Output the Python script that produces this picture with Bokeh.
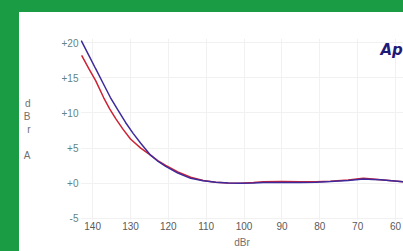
from bokeh.plotting import figure
from bokeh.models import Range1d, FixedTicker, Label
from bokeh.embed import file_html
from bokeh.resources import INLINE

# Data (x: dBr generator level, reversed axis; y: dBr A)
blue_x = [143.0, 141.0, 139.2, 137.2, 135.3, 133.3, 131.3, 129.3, 127.3, 124.7, 122.7, 120.7,
          117.5, 114.1, 110.8, 107.5, 104.2, 101.0, 97.5, 94.9, 90.0, 85.1, 81.0, 77.2,
          72.5, 68.5, 66.0, 64.0, 61.0, 57.9]
blue_y = [20.3, 18.2, 16.3, 14.2, 12.2, 10.4, 8.65, 7.1, 5.7, 4.0, 3.1, 2.4,
          1.45, 0.7, 0.35, 0.15, 0.05, 0.0, 0.05, 0.1, 0.12, 0.1, 0.15, 0.25,
          0.4, 0.6, 0.55, 0.5, 0.35, 0.2]
red_x = [142.9, 141.0, 139.2, 137.1, 135.5, 133.9, 132.0, 130.0, 127.3, 124.7, 122.7, 120.7,
         117.5, 114.1, 110.8, 107.5, 104.2, 101.0, 97.5, 94.9, 90.0, 85.1, 81.0, 77.2,
         72.5, 68.5, 66.0, 64.0, 61.0, 57.9]
red_y = [18.2, 16.3, 14.6, 12.2, 10.6, 9.2, 7.7, 6.3, 5.0, 4.0, 3.2, 2.55,
         1.6, 0.85, 0.4, 0.15, 0.05, 0.0, 0.1, 0.2, 0.25, 0.2, 0.2, 0.3,
         0.45, 0.7, 0.6, 0.5, 0.35, 0.2]

x_ticks = [140, 130, 120, 110, 100, 90, 80, 70, 60]
x_tick_labels = ["140", "130", "120", "110", "100", "90", "80", "70", "60"]
y_ticks = [-5, 0, 5, 10, 15, 20]
y_tick_labels = ["-5", "+0", "+5", "+10", "+15", "+20"]

GREEN = "#1a9c45"

p = figure(width=403, height=251, output_backend="svg", toolbar_location=None,
           x_range=Range1d(143.2, 57.9), y_range=Range1d(-5.3, 20.6),
           min_border_left=80, min_border_right=0, min_border_top=38, min_border_bottom=31)
p.background_fill_color = "white"
p.border_fill_alpha = 0
p.outline_line_color = None
p.styles = {
    "background": "linear-gradient(to right, %s 19px, transparent 19px), "
                  "linear-gradient(to bottom, %s 12px, white 12px)" % (GREEN, GREEN)
}

p.xgrid.ticker = FixedTicker(ticks=x_ticks)
p.ygrid.ticker = FixedTicker(ticks=y_ticks)
p.xgrid.grid_line_color = "#f1f1f1"
p.ygrid.grid_line_color = "#f1f1f1"

p.xaxis.ticker = FixedTicker(ticks=x_ticks)
p.xaxis.major_label_overrides = {t: s for t, s in zip(x_ticks, x_tick_labels)}
p.yaxis.ticker = FixedTicker(ticks=y_ticks)
p.yaxis.major_label_overrides = {t: s for t, s in zip(y_ticks, y_tick_labels)}

for ax in (p.xaxis[0], p.yaxis[0]):
    ax.axis_line_color = None
    ax.major_tick_line_color = None
    ax.minor_tick_line_color = None
    ax.major_tick_out = 0
    ax.major_tick_in = 0
    ax.minor_tick_out = 0
    ax.major_label_text_font = "Liberation Sans"
    ax.major_label_text_font_size = "10px"
    ax.axis_label_text_font = "Liberation Sans"
    ax.axis_label_text_font_size = "10px"
    ax.axis_label_text_font_style = "normal"
    ax.axis_label_text_color = "#707070"

p.xaxis.major_label_text_color = "#5a5a5a"
p.yaxis.major_label_text_color = "#5f8585"
p.xaxis.major_label_standoff = 1
p.yaxis.major_label_standoff = 2
p.xaxis.axis_label = "dBr"
p.xaxis.axis_label_standoff = 4
p.yaxis.axis_label = "d\nB\nr\n\nA"
p.yaxis.axis_label_orientation = "horizontal"
p.yaxis.axis_label_standoff = 28
p.yaxis.axis_label_text_line_height = 1.2

p.line(red_x, red_y, line_color="#cc2233", line_width=1.5)
p.line(blue_x, blue_y, line_color="#3d2b9e", line_width=1.5)

p.add_layout(Label(x=64.0, y=20.3, text="Ap", text_font="DejaVu Sans",
                   text_font_style="bold italic", text_font_size="15px",
                   text_color="#1e1a78", text_baseline="top"))

open("out.html", "w").write(file_html(p, INLINE))
